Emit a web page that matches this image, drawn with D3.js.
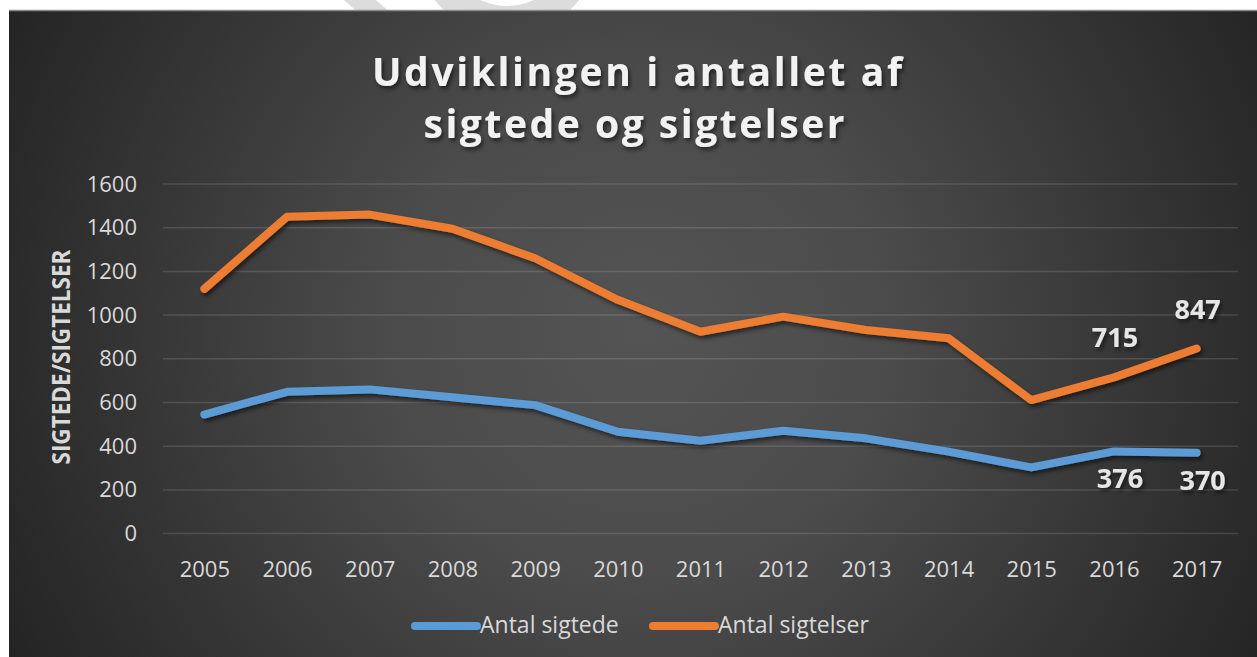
<!DOCTYPE html>
<html>
<head>
<meta charset="utf-8">
<script src="https://cdn.jsdelivr.net/npm/d3@7"></script>
<style>
  body { margin: 0; background: #fff; }
  svg { display: block; }
</style>
</head>
<body>
<svg width="1257" height="657"></svg>
<script>
var years = ["2005", "2006", "2007", "2008", "2009", "2010", "2011", "2012", "2013", "2014", "2015", "2016", "2017"];
var sigtede = [545, 649, 660, 624, 588, 466, 425, 471, 436, 375, 303, 376, 370];
var sigtelser = [1120, 1450, 1460, 1395, 1260, 1070, 924, 993, 932, 894, 611, 715, 847];
var yTicks = [0, 200, 400, 600, 800, 1000, 1200, 1400, 1600];
var labelYears = ["2016", "2017"];
var titleLines = ["Udviklingen i antallet af", "sigtede og sigtelser"];
var seriesNames = ["Antal sigtede", "Antal sigtelser"];

var svg = d3.select("svg"),
    width = +svg.attr("width"),
    height = +svg.attr("height");

var series = [
  {name: seriesNames[0], values: sigtede, color: "#5b9bd5", labelDy: 37, labelDx: 6},
  {name: seriesNames[1], values: sigtelser, color: "#ed7d31", labelDy: -30, labelDx: 1}
];

var defs = svg.append("defs");
var grad = defs.append("radialGradient")
    .attr("id", "bg")
    .attr("gradientUnits", "userSpaceOnUse")
    .attr("cx", 640).attr("cy", 330).attr("r", 720);
grad.append("stop").attr("offset", 0).attr("stop-color", "#545454");
grad.append("stop").attr("offset", 0.35).attr("stop-color", "#4b4b4b");
grad.append("stop").attr("offset", 1).attr("stop-color", "#232323");

var shadow = defs.append("filter").attr("id", "shadow")
    .attr("x", "-20%").attr("y", "-20%").attr("width", "140%").attr("height", "160%");
shadow.append("feDropShadow")
    .attr("dx", 2).attr("dy", 3).attr("stdDeviation", 2)
    .attr("flood-color", "#000").attr("flood-opacity", 0.55);

defs.append("clipPath").attr("id", "topclip")
  .append("rect").attr("x", 0).attr("y", 0).attr("width", width).attr("height", 10);

// faint watermark above the chart
var wm = svg.append("g").attr("clip-path", "url(#topclip)").attr("fill", "#dcdcdc");
wm.append("path").attr("d", "M338,-5 L370,-5 L392,14 L360,14 Z");
wm.append("path")
    .attr("fill-rule", "evenodd")
    .attr("d", d3.arc()({innerRadius: 0, outerRadius: 91, startAngle: 0, endAngle: 2 * Math.PI}) +
      d3.arc()({innerRadius: 0, outerRadius: 61.5, startAngle: 0, endAngle: 2 * Math.PI}))
    .attr("transform", "translate(507,-55.5)");

// chart background
svg.append("rect")
    .attr("x", 9).attr("y", 10)
    .attr("width", width - 9).attr("height", height - 10)
    .attr("fill", "url(#bg)");
svg.append("line")
    .attr("x1", 9).attr("x2", width).attr("y1", 10.5).attr("y2", 10.5)
    .attr("stroke", "#8a8a8a").attr("stroke-width", 1.5);

var x = d3.scalePoint().domain(years).range([163, 1238]).padding(0.5);
var y = d3.scaleLinear().domain([0, 1600]).range([533.6, 184]);

// gridlines
svg.append("g")
    .attr("class", "grid")
    .selectAll("line")
    .data(yTicks)
    .enter().append("line")
    .attr("x1", 163).attr("x2", 1238)
    .attr("y1", function (d) { return y(d); })
    .attr("y2", function (d) { return y(d); })
    .attr("stroke", "#ffffff").attr("stroke-opacity", 0.13).attr("stroke-width", 1.5);

// y axis
var yAxis = svg.append("g")
    .attr("transform", "translate(150,0)")
    .call(d3.axisLeft(y).tickValues(yTicks).tickFormat(d3.format("d")).tickSize(0).tickPadding(13));
yAxis.select(".domain").remove();
yAxis.selectAll("text")
    .attr("fill", "#d9d9d9")
    .style("font-family", "'Open Sans', sans-serif")
    .style("font-size", "22px");

// x axis
var xAxis = svg.append("g")
    .attr("transform", "translate(0,551)")
    .call(d3.axisBottom(x).tickSize(0).tickPadding(10));
xAxis.select(".domain").remove();
xAxis.selectAll("text")
    .attr("fill", "#d9d9d9")
    .style("font-family", "'Open Sans', sans-serif")
    .style("font-size", "22px");

svg.append("text")
    .attr("transform", "translate(70,357) rotate(-90)")
    .attr("text-anchor", "middle")
    .attr("textLength", 215)
    .attr("lengthAdjust", "spacingAndGlyphs")
    .attr("fill", "#d9d9d9")
    .style("font-family", "'Open Sans', sans-serif")
    .style("font-weight", "bold")
    .style("font-size", "25px")
    .text("SIGTEDE/SIGTELSER");

// title
svg.append("g")
    .selectAll("text")
    .data(titleLines)
    .enter().append("text")
    .attr("x", function (d, i) { return i === 0 ? 637 : 634; })
    .attr("y", function (d, i) { return 86 + i * 51.5; })
    .attr("text-anchor", "middle")
    .attr("textLength", function (d, i) { return i === 0 ? 530 : 421; })
    .attr("lengthAdjust", "spacing")
    .attr("fill", "#f2f2f2")
    .attr("filter", "url(#shadow)")
    .style("font-family", "'Open Sans', sans-serif")
    .style("font-weight", "bold")
    .style("font-size", "39px")
    .text(function (d) { return d; });

// lines
var line = d3.line()
    .x(function (d, i) { return x(years[i]); })
    .y(function (d) { return y(d); });

svg.append("g")
    .selectAll("path")
    .data(series)
    .enter().append("path")
    .attr("d", function (d) { return line(d.values); })
    .attr("fill", "none")
    .attr("stroke", function (d) { return d.color; })
    .attr("stroke-width", 8)
    .attr("stroke-linejoin", "round")
    .attr("stroke-linecap", "round")
    .attr("filter", "url(#shadow)");

// data labels
series.forEach(function (s) {
  svg.append("g")
      .selectAll("text")
      .data(labelYears)
      .enter().append("text")
      .attr("x", function (yr) { return x(yr) + s.labelDx; })
      .attr("y", function (yr) { return y(s.values[years.indexOf(yr)]) + s.labelDy; })
      .attr("text-anchor", "middle")
      .attr("fill", "#e6e6e6")
      .attr("filter", "url(#shadow)")
      .style("font-family", "'Open Sans', sans-serif")
      .style("font-weight", "bold")
      .style("font-size", "27px")
      .text(function (yr) { return s.values[years.indexOf(yr)]; });
});

// legend
var legend = svg.append("g")
    .selectAll("g")
    .data(series)
    .enter().append("g")
    .attr("transform", function (d, i) { return "translate(" + (415 + i * 238) + ",626)"; });
legend.append("line")
    .attr("x1", 0).attr("x2", 62)
    .attr("stroke", function (d) { return d.color; })
    .attr("stroke-width", 8)
    .attr("stroke-linecap", "round");
legend.append("text")
    .attr("x", 65).attr("y", 7)
    .attr("fill", "#d9d9d9")
    .style("font-family", "'Open Sans', sans-serif")
    .style("font-size", "23px")
    .text(function (d) { return d.name; });
</script>
</body>
</html>
